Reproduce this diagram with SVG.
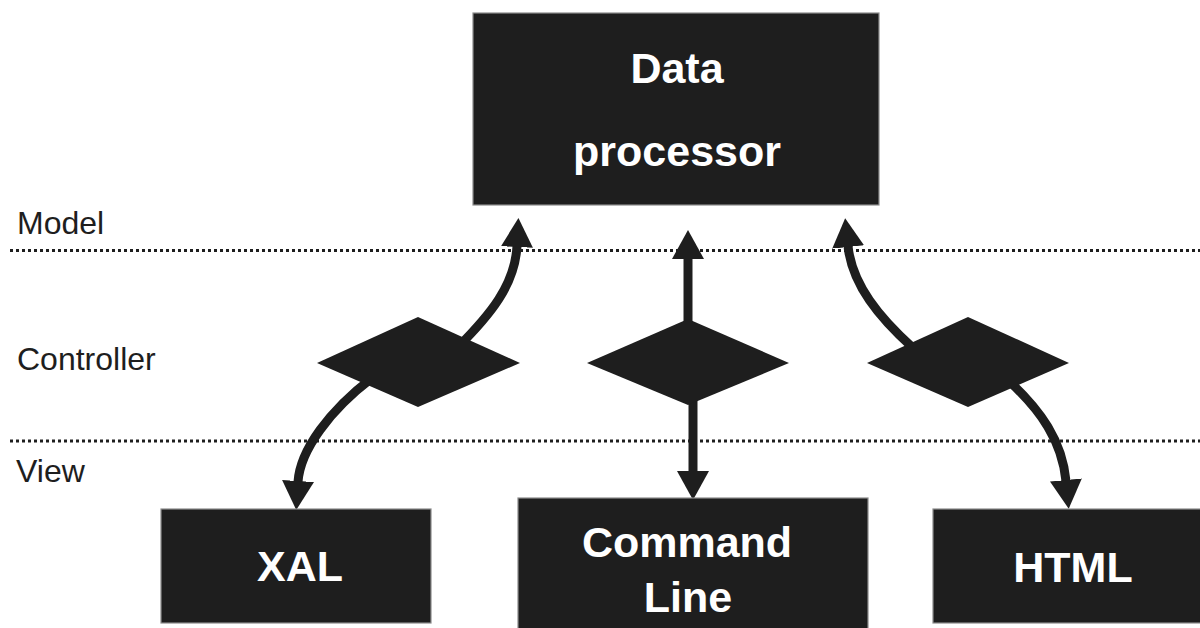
<svg xmlns="http://www.w3.org/2000/svg" width="1200" height="628" viewBox="0 0 1200 628">
  <style>
    .box { fill: #1e1e1e; stroke: #8c8c8c; stroke-width: 1.2; }
    .dia { fill: #1e1e1e; }
    .boxtxt { font-family: "Liberation Sans", Arial, sans-serif; font-weight: bold; font-size: 43px; fill: #ffffff; text-anchor: middle; }
    .lbl { font-family: "Liberation Sans", Arial, sans-serif; font-size: 32px; fill: #1e1e1e; }
    .sep { stroke: #1e1e1e; stroke-width: 3; stroke-dasharray: 3 3; fill: none; }
    .conn { stroke: #1e1e1e; stroke-width: 9; fill: none; marker-end: url(#arrow); }
  </style>
  <defs>
    <marker id="arrow" viewBox="0 0 30 32" markerWidth="30" markerHeight="32" markerUnits="userSpaceOnUse" refX="1" refY="16" orient="auto">
      <path d="M0,0 L29,16 L0,32 Z" fill="#1e1e1e"/>
    </marker>
  </defs>
  <rect width="1200" height="628" fill="#ffffff"/>

  <g id="layers">
    <line class="sep" x1="10" y1="250.5" x2="1200" y2="250.5"/>
    <line class="sep" x1="10" y1="441" x2="1200" y2="441"/>
    <text class="lbl" x="17" y="234">Model</text>
    <text class="lbl" x="17" y="370">Controller</text>
    <text class="lbl" x="16" y="482">View</text>
  </g>

  <g id="connectors">
    <path class="conn" d="M458,347 C490,315 515,285 517,246"/>
    <path class="conn" d="M688,330 L688,258"/>
    <path class="conn" d="M912,347 C880,318 852,285 848,246"/>
    <path class="conn" d="M372,378 C330,410 300,450 298,482"/>
    <path class="conn" d="M693,400 L693,472"/>
    <path class="conn" d="M1010,382 C1040,410 1062,440 1066,481"/>
  </g>

  <g id="data-processor">
    <rect class="box" x="473" y="13" width="406" height="192"/>
    <text class="boxtxt" x="677" y="83">Data</text>
    <text class="boxtxt" x="677" y="166">processor</text>
  </g>

  <g id="controller-xal">
    <polygon class="dia" points="317,363 418,317 520,363 418,407"/>
  </g>
  <g id="controller-cmd">
    <polygon class="dia" points="587,363 688,319 789,363 688,405"/>
  </g>
  <g id="controller-html">
    <polygon class="dia" points="867,363 968,317 1069,363 968,407"/>
  </g>

  <g id="xal">
    <rect class="box" x="161" y="509" width="270" height="114"/>
    <text class="boxtxt" x="300" y="581">XAL</text>
  </g>
  <g id="command-line">
    <rect class="box" x="518" y="498" width="350" height="140"/>
    <text class="boxtxt" x="687" y="557">Command</text>
    <text class="boxtxt" x="688" y="612">Line</text>
  </g>
  <g id="html">
    <rect class="box" x="933" y="509" width="280" height="114"/>
    <text class="boxtxt" x="1073" y="582">HTML</text>
  </g>
</svg>
